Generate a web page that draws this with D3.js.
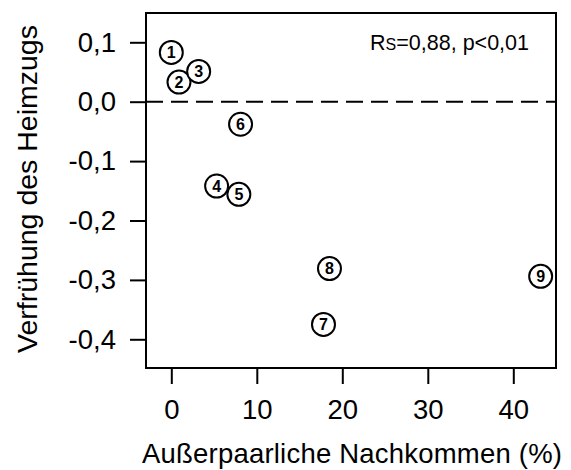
<!DOCTYPE html>
<html><head><meta charset="utf-8">
<script src="https://cdn.jsdelivr.net/npm/d3@7/dist/d3.min.js"></script>
<style>body{margin:0;background:#fff}svg{display:block}text{font-family:"Liberation Sans",Arial,sans-serif;fill:#000}</style>
</head><body>
<script>
const labels = ["1","2","3","4","5","6","7","8","9"];
const xValues = [0.0, 0.9, 3.2, 5.3, 7.9, 8.1, 17.8, 18.5, 43.2];
const yValues = [0.083, 0.033, 0.051, -0.142, -0.156, -0.038, -0.375, -0.281, -0.294];
const xTicks = [0, 10, 20, 30, 40];
const yTicks = [0.1, 0.0, -0.1, -0.2, -0.3, -0.4];

const W = 571, H = 470;
const box = {left: 146, right: 556, top: 13, bottom: 368};
const x = d3.scaleLinear().domain([0, 40]).range([171.3, 513.3]);
const y = d3.scaleLinear().domain([0, -0.4]).range([101.7, 339.3]);
const fmt = v => d3.format(".1f")(v).replace(".", ",").replace("−", "-");

const svg = d3.select("body").append("svg").attr("width", W).attr("height", H);

// box
svg.append("rect").attr("x", box.left).attr("y", box.top)
  .attr("width", box.right - box.left).attr("height", box.bottom - box.top)
  .attr("fill", "none").attr("stroke", "#000").attr("stroke-width", 2);

// x axis
const xAxis = d3.axisBottom(x).tickValues(xTicks).tickSize(16).tickPadding(15).tickFormat(d3.format("d"));
const gx = svg.append("g").attr("transform", `translate(0,${box.bottom})`).call(xAxis);
gx.select(".domain").remove();
gx.selectAll("line").attr("stroke", "#000").attr("stroke-width", 2);
gx.selectAll("text").attr("font-size", 27.5).attr("font-family", '"Liberation Sans",Arial,sans-serif').attr("fill", "#000");

// y axis
const yAxis = d3.axisLeft(y).tickValues(yTicks).tickSize(16).tickPadding(14).tickFormat(fmt);
const gy = svg.append("g").attr("transform", `translate(${box.left},0)`).call(yAxis);
gy.select(".domain").remove();
gy.selectAll("line").attr("stroke", "#000").attr("stroke-width", 2);
gy.selectAll("text").attr("font-size", 27.5).attr("font-family", '"Liberation Sans",Arial,sans-serif').attr("fill", "#000");

// dashed zero line
svg.append("line").attr("x1", box.left).attr("x2", box.right)
  .attr("y1", y(0)).attr("y2", y(0))
  .attr("stroke", "#000").attr("stroke-width", 2).attr("stroke-dasharray", "17,8");

// axis titles
svg.append("text").attr("x", 352).attr("y", 463).attr("text-anchor", "middle")
  .attr("font-size", 27.5).attr("textLength", 420).text("Außerpaarliche Nachkommen (%)");
svg.append("text").attr("transform", `translate(37,189) rotate(-90)`).attr("text-anchor", "middle")
  .attr("font-size", 28.5).text("Verfrühung des Heimzugs");

// annotation
const ann = svg.append("text").attr("x", 529).attr("y", 50).attr("text-anchor", "end").attr("font-size", 21.5);
ann.append("tspan").text("R");
ann.append("tspan").attr("font-size", 16).text("S");
ann.append("tspan").text("=0,88, p<0,01");

// points
const data = labels.map((l, i) => ({l, x: xValues[i], y: yValues[i]}));
const pts = svg.append("g").selectAll("g").data(data).join("g")
  .attr("transform", d => `translate(${x(d.x)},${y(d.y)})`);
pts.append("circle").attr("r", 11.5).attr("fill", "#fff").attr("stroke", "#000").attr("stroke-width", 2);
pts.append("text").attr("text-anchor", "middle").attr("dy", "0.36em")
  .attr("font-size", 16).attr("font-weight", "bold").text(d => d.l);
</script>
</body></html>
